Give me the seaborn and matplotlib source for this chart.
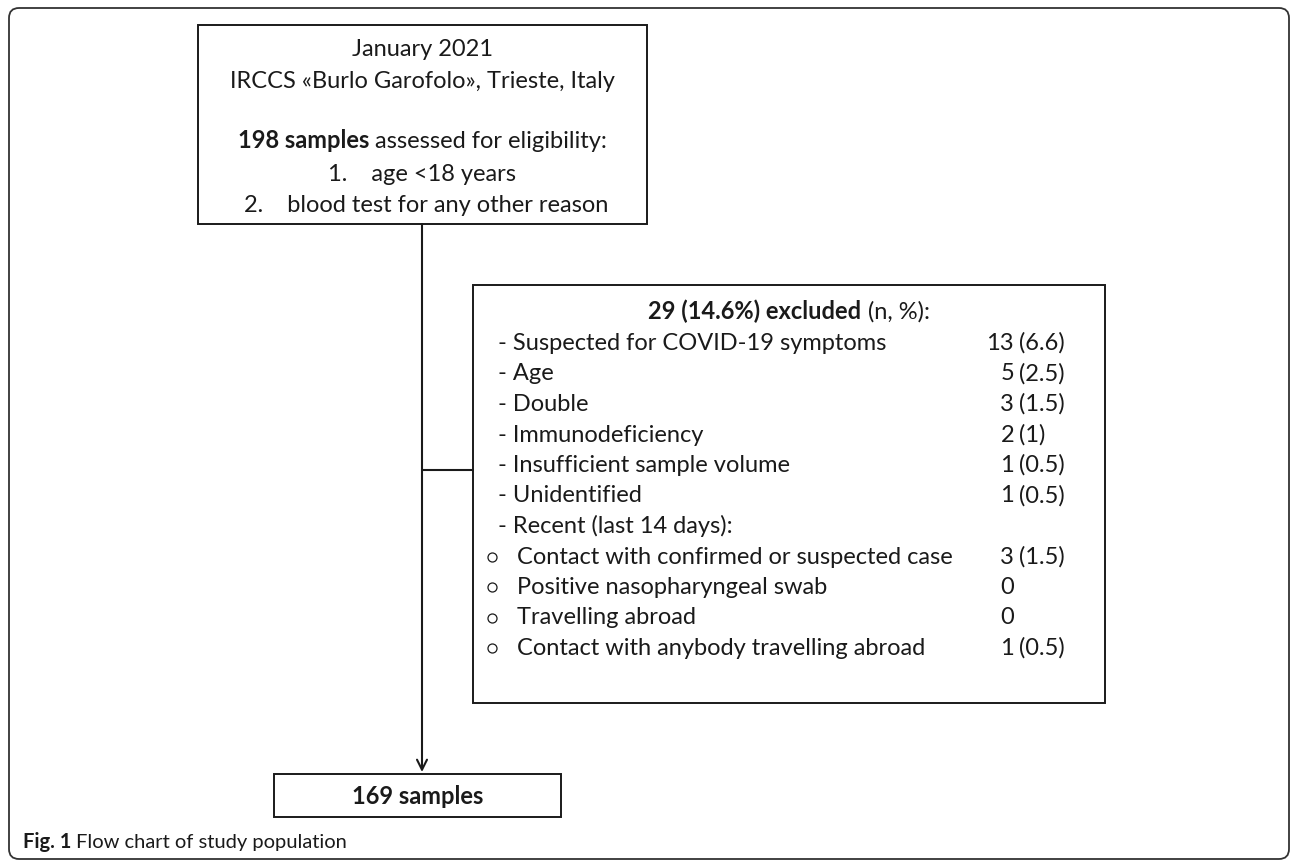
import matplotlib
matplotlib.use("Agg")
import matplotlib.pyplot as plt
import seaborn as sns
from matplotlib.patches import Rectangle, FancyBboxPatch

# ---- chart content ----
period = "January 2021"
centre = "IRCCS «Burlo Garofolo», Trieste, Italy"
assessed_n = 198
criteria = ["age <18 years", "blood test for any other reason"]
excluded_n = 29
excluded_pct = 14.6
reasons = ["Suspected for COVID-19 symptoms", "Age", "Double", "Immunodeficiency",
           "Insufficient sample volume", "Unidentified"]
reason_counts = [13, 5, 3, 2, 1, 1]
reason_pcts = ["6.6", "2.5", "1.5", "1", "0.5", "0.5"]
recent_header = "Recent (last 14 days):"
recent = ["Contact with confirmed or suspected case", "Positive nasopharyngeal swab",
          "Travelling abroad", "Contact with anybody travelling abroad"]
recent_counts = [3, 0, 0, 1]
recent_pcts = ["1.5", None, None, "0.5"]
final_n = 169
fig_label = "Fig. 1"
caption = "Flow chart of study population"

sns.set_theme(style="white")
plt.rcParams["font.family"] = ["Lato", "DejaVu Sans"]

FS = 17
INK = "#1a1a1a"
BASE = 8  # baseline sits this far below the visual centre of a line

fig = plt.figure(figsize=(12.9, 8.6), dpi=100)
ax = fig.add_axes([0, 0, 1, 1])
ax.set_xlim(0, 1290)
ax.set_ylim(860, 0)
ax.axis("off")
renderer = fig.canvas.get_renderer()


def text_width(s, size, weight):
    t = ax.text(0, 0, s, fontsize=size, fontweight=weight)
    w = t.get_window_extent(renderer).width
    t.remove()
    return w


def rich(x, y, parts, ha="left", size=FS, base=BASE):
    # parts: list of (text, weight); a space is put between the parts
    space = text_width("a a", size, "normal") - text_width("aa", size, "normal")
    widths = [text_width(s, size, w) for s, w in parts]
    total = sum(widths) + space * (len(parts) - 1)
    x0 = x - total / 2 if ha == "center" else x
    for (s, w), wd in zip(parts, widths):
        ax.text(x0, y + base, s, fontsize=size, fontweight=w, ha="left", va="baseline", color=INK)
        x0 += wd + space


def line(x, y, s, ha="left", size=FS, weight="normal"):
    ax.text(x, y + BASE, s, fontsize=size, fontweight=weight, ha=ha, va="baseline", color=INK)


# outer frame
ax.add_patch(FancyBboxPatch((9, 8), 1280, 851, boxstyle="round,pad=0,rounding_size=10",
                            fill=False, ec="#333333", lw=1.3))

# top box
top = dict(x0=198, y0=25, x1=647, y1=224)
ax.add_patch(Rectangle((top["x0"], top["y0"]), top["x1"] - top["x0"], top["y1"] - top["y0"],
                       fill=False, ec=INK, lw=1.4))
cx = (top["x0"] + top["x1"]) / 2
line(cx, 48, period, ha="center")
line(cx, 80, centre, ha="center")
rich(cx, 140, [(f"{assessed_n} samples", "bold"), ("assessed for eligibility:", "normal")], ha="center")
for i, c in enumerate(criteria):
    line(cx + 4 * i, 173 + i * 31, f"{i + 1}.    {c}", ha="center")

# flow line and arrow
ax.annotate("", xy=(422, 772), xytext=(422, 224),
            arrowprops=dict(arrowstyle="->", lw=1.5, color=INK, shrinkA=0, shrinkB=0,
                            mutation_scale=18))

# excluded box
ex = dict(x0=473, y0=285, x1=1105, y1=703)
ax.plot([422, ex["x0"]], [470, 470], color=INK, lw=1.5)
ax.add_patch(Rectangle((ex["x0"], ex["y0"]), ex["x1"] - ex["x0"], ex["y1"] - ex["y0"],
                       fill=False, ec=INK, lw=1.4))
rich((ex["x0"] + ex["x1"]) / 2, 311,
     [(f"{excluded_n} ({excluded_pct}%) excluded", "bold"), ("(n, %):", "normal")], ha="center")

row0, step = 342, 30.5
dash_x = ex["x0"] + 25
count_x = 1014


def value(y, n, pct):
    line(count_x, y, str(n), ha="right")
    if pct is not None:
        line(count_x + 5, y, f"({pct})")


rows = list(zip(reasons, reason_counts, reason_pcts))
for i, (r, n, p) in enumerate(rows):
    y = row0 + i * step
    line(dash_x, y, f"- {r}")
    value(y, n, p)
y = row0 + len(rows) * step
line(dash_x, y, f"- {recent_header}")
for j, (r, n, p) in enumerate(zip(recent, recent_counts, recent_pcts)):
    y = row0 + (len(rows) + 1 + j) * step
    ax.plot(ex["x0"] + 19, y + 1, "o", ms=6.5, mfc="white", mec=INK, mew=0.9)
    line(ex["x0"] + 44, y, r)
    value(y, n, p)

# final box
fin = dict(x0=274, y0=774, x1=561, y1=817)
ax.add_patch(Rectangle((fin["x0"], fin["y0"]), fin["x1"] - fin["x0"], fin["y1"] - fin["y0"],
                       fill=False, ec=INK, lw=1.4))
line((fin["x0"] + fin["x1"]) / 2, 796, f"{final_n} samples", ha="center", weight="bold")

# caption
rich(23, 842, [(fig_label, "bold"), (caption, "normal")], size=14.5, base=6)

fig.savefig("out.png", dpi=100)
